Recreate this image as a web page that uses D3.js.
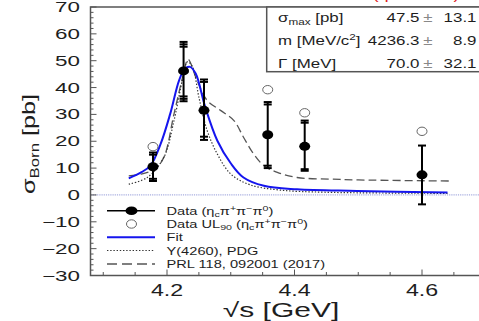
<!DOCTYPE html>
<html>
<head>
<meta charset="utf-8">
<script src="https://cdn.jsdelivr.net/npm/d3@7"></script>
<style>
html,body{margin:0;padding:0;background:#fff;overflow:hidden;}
svg{display:block;font-family:"Liberation Sans",Arial,Helvetica,sans-serif;}
</style>
</head>
<body>
<svg id="c" width="479" height="321"></svg>
<script>
// ---------- data ----------
const energies   = [4.178, 4.226, 4.258, 4.358, 4.416, 4.600];
const sigma      = [10.5, 46.2, 31.5, 22.4, 18.1, 7.5];
const capsHigh   = [[15.0, 15.8], [55.2, 56.1, 57.0], [42.1, 43.0], [33.7, 34.6], [26.9, 27.7], [18.4]];
const capsLow    = [[6.0, 5.2], [36.7, 35.8, 34.9], [21.7, 20.5], [10.9, 10.0], [9.6, 9.0], [-3.5]];
const ulEnergies = [4.178, 4.358, 4.416, 4.600];
const ulValues   = [18.0, 39.2, 30.6, 23.7];

const fitX    = [4.140, 4.160, 4.174, 4.190, 4.205, 4.219, 4.228, 4.236, 4.245, 4.260, 4.279, 4.300, 4.320, 4.352, 4.404, 4.498, 4.640];
const fitY    = [6.2, 8.5, 10.9, 19.0, 30.2, 42.7, 47.0, 47.7, 45.2, 32.7, 20.2, 11.8, 6.5, 3.4, 2.1, 1.5, 0.9];
const pdgX    = [4.140, 4.169, 4.195, 4.211, 4.224, 4.232, 4.240, 4.250, 4.263, 4.279, 4.300, 4.330, 4.378, 4.450, 4.640];
const pdgY    = [4.0, 6.5, 14.0, 27.7, 42.7, 49.6, 47.7, 36.4, 24.0, 15.2, 7.8, 3.8, 1.8, 1.0, 0.6];
const prlX    = [4.140, 4.158, 4.180, 4.195, 4.211, 4.226, 4.233, 4.247, 4.263, 4.284, 4.305, 4.320, 4.336, 4.352, 4.373, 4.404, 4.456, 4.500, 4.642];
const prlY    = [7.1, 7.7, 9.5, 14.0, 30.2, 45.2, 50.5, 42.7, 35.2, 31.5, 27.7, 21.5, 15.2, 10.9, 8.4, 6.5, 5.9, 5.6, 5.2];

const xTickLabels = [4.2, 4.4, 4.6];
const yTickLabels = [70, 60, 50, 40, 30, 20, 10, 0, -10, -20, -30];

const fitParams = [
  {name: "σ", sub: "max", rest: " [pb]", value: "47.5", err: "13.1"},
  {name: "m [MeV/c", sup: "2", rest: "]", value: "4236.3", err: "8.9"},
  {name: "Γ [MeV]", value: "70.0", err: "32.1"}
];

// ---------- scales ----------
const svg = d3.select("#c");
const x = d3.scaleLinear().domain([4.08, 4.70]).range([90.5, 485.75]);
const y = d3.scaleLinear().domain([-30, 70]).range([275.5, 7]);
const INK = "#1e1e1e";
const AX = "#555";

// helper for horizontally stretched text
function stext(parent, px, py, size, sx, anchor, fill) {
  const g = parent.append("g").attr("transform", `translate(${px},${py}) scale(${sx},1)`);
  return g.append("text").attr("x", 0).attr("y", 0)
    .attr("font-size", size).attr("text-anchor", anchor || "start").attr("fill", fill || INK);
}

// red (cut-off) title remnant at top
stext(svg, 416, -1, 14, 1.3, "middle", "#e02020").text("(ηcπ⁺π⁻π⁰)");

// zero line
svg.append("line").attr("x1", x(4.08)).attr("x2", x(4.70)).attr("y1", y(0)).attr("y2", y(0))
  .attr("stroke", "#a8aee0").attr("stroke-width", 1.2).attr("stroke-dasharray", "1.2,1");

// frame
svg.append("rect").attr("x", x(4.08)).attr("y", y(70)).attr("width", x(4.70) - x(4.08)).attr("height", y(-30) - y(70))
  .attr("fill", "none").attr("stroke", AX).attr("stroke-width", 1.5);

// y ticks (major 10, minor 2)
const yTicksAll = d3.range(-30, 70.001, 2);
svg.append("g").selectAll("line").data(yTicksAll).join("line")
  .attr("x1", x(4.08)).attr("x2", d => x(4.08) + (d % 10 === 0 ? 6 : 3))
  .attr("y1", d => y(d)).attr("y2", d => y(d)).attr("stroke", AX).attr("stroke-width", 1);
yTickLabels.forEach(v => {
  stext(svg, 80, y(v) + 5, 14, 1.6, "end").text(v < 0 ? "−" + Math.abs(v) : String(v));
});

// x ticks (minor 0.05, major 0.2)
const xTicksAll = d3.range(4.10, 4.701, 0.05).map(v => +v.toFixed(2));
svg.append("g").selectAll("line").data(xTicksAll).join("line")
  .attr("x1", d => x(d)).attr("x2", d => x(d))
  .attr("y1", y(-30)).attr("y2", d => y(-30) - (Math.abs(((d + 1e-9) * 5) % 1) < 1e-6 ? 6 : 3.5))
  .attr("stroke", AX).attr("stroke-width", 1);
xTickLabels.forEach(v => {
  stext(svg, x(v), 295.5, 16, 1.45, "middle").text(v.toFixed(1));
});

// axis titles
stext(svg, 281, 317, 20, 1.5, "middle").text("√s [GeV]");
{
  const g = svg.append("g").attr("transform", "translate(35,144) rotate(-90) scale(1.4,1)");
  const t = g.append("text").attr("text-anchor", "middle").attr("font-size", 18).attr("fill", INK);
  t.append("tspan").text("σ");
  t.append("tspan").attr("font-size", 12).attr("dy", 4).text("Born");
  t.append("tspan").attr("dy", -4).text(" [pb]");
}

// curves
const line = d3.line().x(d => x(d[0])).y(d => y(d[1])).curve(d3.curveCatmullRom.alpha(0.5));
svg.append("path").attr("d", line(prlX.map((v, i) => [v, prlY[i]])))
  .attr("fill", "none").attr("stroke", "#555").attr("stroke-width", 1.3).attr("stroke-dasharray", "8,4");
svg.append("path").attr("d", line(pdgX.map((v, i) => [v, pdgY[i]])))
  .attr("fill", "none").attr("stroke", "#333").attr("stroke-width", 1.2).attr("stroke-dasharray", "1.4,1.8");
svg.append("path").attr("d", line(fitX.map((v, i) => [v, fitY[i]])))
  .attr("fill", "none").attr("stroke", "#1515ee").attr("stroke-width", 2);

// upper limits
svg.append("g").selectAll("ellipse").data(ulEnergies).join("ellipse")
  .attr("cx", d => x(d)).attr("cy", (d, i) => y(ulValues[i])).attr("rx", 5).attr("ry", 4.2)
  .attr("fill", "#fff").attr("stroke", "#666").attr("stroke-width", 1);

// data points with error bars
const pts = svg.append("g");
energies.forEach((e, i) => {
  const cx = x(e);
  const hi = d3.max(capsHigh[i]), lo = d3.min(capsLow[i]);
  pts.append("line").attr("x1", cx).attr("x2", cx).attr("y1", y(hi)).attr("y2", y(lo))
    .attr("stroke", "#000").attr("stroke-width", 2);
  capsHigh[i].concat(capsLow[i]).forEach(c => {
    pts.append("line").attr("x1", cx - 4).attr("x2", cx + 4).attr("y1", y(c)).attr("y2", y(c))
      .attr("stroke", "#000").attr("stroke-width", 2);
  });
  pts.append("ellipse").attr("cx", cx).attr("cy", y(sigma[i])).attr("rx", 5.5).attr("ry", 4.5).attr("fill", "#000");
});

// fit-parameter box
svg.append("rect").attr("x", 266.7).attr("y", 7).attr("width", 230).attr("height", 64.7)
  .attr("fill", "#fff").attr("stroke", AX).attr("stroke-width", 1.5);
const rowY = [21.5, 45, 67.5];
fitParams.forEach((p, i) => {
  const t = stext(svg, 278, rowY[i], 13, 1.3, "start");
  t.append("tspan").text(p.name);
  if (p.sub) t.append("tspan").attr("font-size", 9).attr("dy", 3).text(p.sub);
  if (p.sup) t.append("tspan").attr("font-size", 9).attr("dy", -5).text(p.sup);
  if (p.sub) t.append("tspan").attr("dy", -3).text(p.rest);
  else if (p.sup) t.append("tspan").attr("dy", 5).text(p.rest);
  stext(svg, 419.5, rowY[i], 13, 1.3, "end").text(p.value);
  stext(svg, 428, rowY[i], 13, 1.3, "middle", "#888").text("±");
  stext(svg, 476.5, rowY[i], 13, 1.3, "end").text(p.err);
});

// legend
const lg = svg.append("g");
const lx1 = 107, lx2 = 155, lcx = 131.5, tx = 166.5;
const ly = [210.7, 224, 237.3, 250.5, 264];
lg.append("line").attr("x1", lx1).attr("x2", lx2).attr("y1", ly[0]).attr("y2", ly[0]).attr("stroke", "#000").attr("stroke-width", 1.5);
lg.append("ellipse").attr("cx", lcx).attr("cy", ly[0]).attr("rx", 6).attr("ry", 4.3).attr("fill", "#000");
lg.append("ellipse").attr("cx", lcx).attr("cy", ly[1]).attr("rx", 5).attr("ry", 4.2).attr("fill", "#fff").attr("stroke", "#666").attr("stroke-width", 1);
lg.append("line").attr("x1", lx1).attr("x2", lx2).attr("y1", ly[2]).attr("y2", ly[2]).attr("stroke", "#1515ee").attr("stroke-width", 2);
lg.append("line").attr("x1", lx1).attr("x2", lx2).attr("y1", ly[3]).attr("y2", ly[3]).attr("stroke", "#333").attr("stroke-width", 1.2).attr("stroke-dasharray", "1.4,1.8");
lg.append("line").attr("x1", lx1).attr("x2", lx2).attr("y1", ly[4]).attr("y2", ly[4]).attr("stroke", "#555").attr("stroke-width", 1.3).attr("stroke-dasharray", "10,5");

function chan(t) {
  t.append("tspan").text("(η");
  t.append("tspan").attr("font-size", 8).attr("dy", 2).text("c");
  t.append("tspan").attr("dy", -2).text("π");
  t.append("tspan").attr("font-size", 8).attr("dy", -4).text("+");
  t.append("tspan").attr("dy", 4).text("π");
  t.append("tspan").attr("font-size", 8).attr("dy", -4).text("−");
  t.append("tspan").attr("dy", 4).text("π");
  t.append("tspan").attr("font-size", 8).attr("dy", -4).text("0");
  t.append("tspan").attr("dy", 4).text(")");
}
{
  const t = stext(lg, tx, ly[0] + 4, 11, 1.33, "start");
  t.append("tspan").text("Data ");
  chan(t);
}
{
  const t = stext(lg, tx, ly[1] + 4, 11, 1.33, "start");
  t.append("tspan").text("Data UL");
  t.append("tspan").attr("font-size", 8).attr("dy", 2).text("90");
  t.append("tspan").attr("dy", -2).text(" ");
  chan(t);
}
stext(lg, tx, ly[2] + 4, 11, 1.33, "start").text("Fit");
stext(lg, tx, ly[3] + 4, 11, 1.33, "start").text("Y(4260), PDG");
stext(lg, tx, ly[4] + 4, 11, 1.33, "start").text("PRL 118, 092001 (2017)");
</script>
</body>
</html>
